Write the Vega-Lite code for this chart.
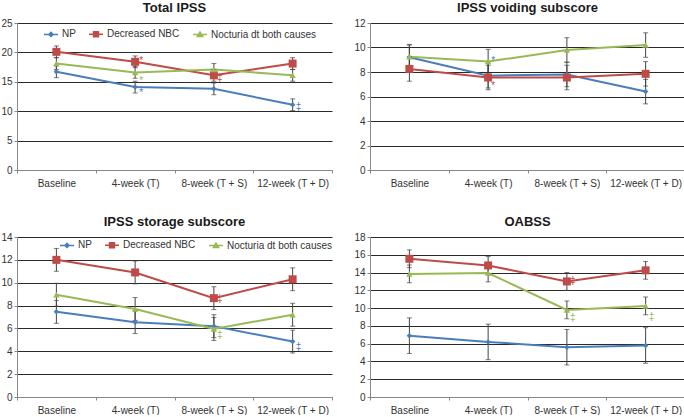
{
  "$schema": "https://vega.github.io/schema/vega-lite/v6.json",
  "padding": {"left": 0, "top": 2, "right": 0, "bottom": 0},
  "background": "white",
  "datasets": {
    "pts": [
      {"panel": "Total IPSS", "time": "Baseline", "series": "NP", "value": 16.7, "lo": 15.7, "hi": 17.7},
      {"panel": "Total IPSS", "time": "4-week (T)", "series": "NP", "value": 14.1, "lo": 13.1, "hi": 15.1},
      {"panel": "Total IPSS", "time": "8-week (T + S)", "series": "NP", "value": 13.8, "lo": 12.8, "hi": 14.8},
      {"panel": "Total IPSS", "time": "12-week (T + D)", "series": "NP", "value": 11.1, "lo": 10.1, "hi": 12.1},
      {"panel": "Total IPSS", "time": "Baseline", "series": "Decreased NBC", "value": 20.1, "lo": 19.1, "hi": 21.1},
      {"panel": "Total IPSS", "time": "4-week (T)", "series": "Decreased NBC", "value": 18.4, "lo": 17.4, "hi": 19.4},
      {"panel": "Total IPSS", "time": "8-week (T + S)", "series": "Decreased NBC", "value": 16.1, "lo": 15.1, "hi": 17.1},
      {"panel": "Total IPSS", "time": "12-week (T + D)", "series": "Decreased NBC", "value": 18.1, "lo": 17.1, "hi": 19.1},
      {"panel": "Total IPSS", "time": "Baseline", "series": "Nocturia dt both causes", "value": 18.1, "lo": 17.1, "hi": 19.1},
      {"panel": "Total IPSS", "time": "4-week (T)", "series": "Nocturia dt both causes", "value": 16.6, "lo": 15.6, "hi": 17.6},
      {"panel": "Total IPSS", "time": "8-week (T + S)", "series": "Nocturia dt both causes", "value": 17.1, "lo": 16.1, "hi": 18.1},
      {"panel": "Total IPSS", "time": "12-week (T + D)", "series": "Nocturia dt both causes", "value": 16.1, "lo": 15.1, "hi": 17.1},

      {"panel": "IPSS voiding subscore", "time": "Baseline", "series": "NP", "value": 9.2, "lo": 8.2, "hi": 10.2},
      {"panel": "IPSS voiding subscore", "time": "4-week (T)", "series": "NP", "value": 7.7, "lo": 6.7, "hi": 8.7},
      {"panel": "IPSS voiding subscore", "time": "8-week (T + S)", "series": "NP", "value": 7.8, "lo": 6.8, "hi": 8.8},
      {"panel": "IPSS voiding subscore", "time": "12-week (T + D)", "series": "NP", "value": 6.4, "lo": 5.4, "hi": 7.4},
      {"panel": "IPSS voiding subscore", "time": "Baseline", "series": "Decreased NBC", "value": 8.25, "lo": 7.25, "hi": 9.25},
      {"panel": "IPSS voiding subscore", "time": "4-week (T)", "series": "Decreased NBC", "value": 7.55, "lo": 6.55, "hi": 8.55},
      {"panel": "IPSS voiding subscore", "time": "8-week (T + S)", "series": "Decreased NBC", "value": 7.55, "lo": 6.55, "hi": 8.55},
      {"panel": "IPSS voiding subscore", "time": "12-week (T + D)", "series": "Decreased NBC", "value": 7.85, "lo": 6.85, "hi": 8.85},
      {"panel": "IPSS voiding subscore", "time": "Baseline", "series": "Nocturia dt both causes", "value": 9.25, "lo": 8.25, "hi": 10.25},
      {"panel": "IPSS voiding subscore", "time": "4-week (T)", "series": "Nocturia dt both causes", "value": 8.85, "lo": 7.85, "hi": 9.85},
      {"panel": "IPSS voiding subscore", "time": "8-week (T + S)", "series": "Nocturia dt both causes", "value": 9.8, "lo": 8.8, "hi": 10.8},
      {"panel": "IPSS voiding subscore", "time": "12-week (T + D)", "series": "Nocturia dt both causes", "value": 10.2, "lo": 9.2, "hi": 11.2},

      {"panel": "IPSS storage subscore", "time": "Baseline", "series": "NP", "value": 7.45, "lo": 6.45, "hi": 8.45},
      {"panel": "IPSS storage subscore", "time": "4-week (T)", "series": "NP", "value": 6.55, "lo": 5.55, "hi": 7.55},
      {"panel": "IPSS storage subscore", "time": "8-week (T + S)", "series": "NP", "value": 6.2, "lo": 5.2, "hi": 7.2},
      {"panel": "IPSS storage subscore", "time": "12-week (T + D)", "series": "NP", "value": 4.85, "lo": 3.85, "hi": 5.85},
      {"panel": "IPSS storage subscore", "time": "Baseline", "series": "Decreased NBC", "value": 12.0, "lo": 11.0, "hi": 13.0},
      {"panel": "IPSS storage subscore", "time": "4-week (T)", "series": "Decreased NBC", "value": 10.9, "lo": 9.9, "hi": 11.9},
      {"panel": "IPSS storage subscore", "time": "8-week (T + S)", "series": "Decreased NBC", "value": 8.65, "lo": 7.65, "hi": 9.65},
      {"panel": "IPSS storage subscore", "time": "12-week (T + D)", "series": "Decreased NBC", "value": 10.3, "lo": 9.3, "hi": 11.3},
      {"panel": "IPSS storage subscore", "time": "Baseline", "series": "Nocturia dt both causes", "value": 8.95, "lo": 7.95, "hi": 9.95},
      {"panel": "IPSS storage subscore", "time": "4-week (T)", "series": "Nocturia dt both causes", "value": 7.7, "lo": 6.7, "hi": 8.7},
      {"panel": "IPSS storage subscore", "time": "8-week (T + S)", "series": "Nocturia dt both causes", "value": 5.95, "lo": 4.95, "hi": 6.95},
      {"panel": "IPSS storage subscore", "time": "12-week (T + D)", "series": "Nocturia dt both causes", "value": 7.2, "lo": 6.2, "hi": 8.2},

      {"panel": "OABSS", "time": "Baseline", "series": "NP", "value": 6.9, "lo": 4.9, "hi": 8.9},
      {"panel": "OABSS", "time": "4-week (T)", "series": "NP", "value": 6.2, "lo": 4.2, "hi": 8.2},
      {"panel": "OABSS", "time": "8-week (T + S)", "series": "NP", "value": 5.6, "lo": 3.6, "hi": 7.6},
      {"panel": "OABSS", "time": "12-week (T + D)", "series": "NP", "value": 5.8, "lo": 3.8, "hi": 7.8},
      {"panel": "OABSS", "time": "Baseline", "series": "Decreased NBC", "value": 15.55, "lo": 14.55, "hi": 16.55},
      {"panel": "OABSS", "time": "4-week (T)", "series": "Decreased NBC", "value": 14.8, "lo": 13.8, "hi": 15.8},
      {"panel": "OABSS", "time": "8-week (T + S)", "series": "Decreased NBC", "value": 13.0, "lo": 12.0, "hi": 14.0},
      {"panel": "OABSS", "time": "12-week (T + D)", "series": "Decreased NBC", "value": 14.25, "lo": 13.25, "hi": 15.25},
      {"panel": "OABSS", "time": "Baseline", "series": "Nocturia dt both causes", "value": 13.85, "lo": 12.85, "hi": 14.85},
      {"panel": "OABSS", "time": "4-week (T)", "series": "Nocturia dt both causes", "value": 13.95, "lo": 12.95, "hi": 14.95},
      {"panel": "OABSS", "time": "8-week (T + S)", "series": "Nocturia dt both causes", "value": 9.8, "lo": 8.8, "hi": 10.8},
      {"panel": "OABSS", "time": "12-week (T + D)", "series": "Nocturia dt both causes", "value": 10.25, "lo": 9.25, "hi": 11.25}
    ],
    "ann": [
      {"panel": "Total IPSS", "time": "4-week (T)", "series": "Decreased NBC", "label": "*", "pos": 18.6},
      {"panel": "Total IPSS", "time": "4-week (T)", "series": "Nocturia dt both causes", "label": "*", "pos": 15.1},
      {"panel": "Total IPSS", "time": "4-week (T)", "series": "NP", "label": "*", "pos": 13.1},
      {"panel": "Total IPSS", "time": "8-week (T + S)", "series": "Decreased NBC", "label": "‡", "pos": 15.6},
      {"panel": "Total IPSS", "time": "12-week (T + D)", "series": "NP", "label": "‡", "pos": 10.7},
      {"panel": "IPSS voiding subscore", "time": "4-week (T)", "series": "NP", "label": "*", "pos": 8.9},
      {"panel": "IPSS voiding subscore", "time": "4-week (T)", "series": "Decreased NBC", "label": "*", "pos": 6.85},
      {"panel": "IPSS storage subscore", "time": "8-week (T + S)", "series": "Decreased NBC", "label": "‡", "pos": 8.55},
      {"panel": "IPSS storage subscore", "time": "8-week (T + S)", "series": "Nocturia dt both causes", "label": "‡", "pos": 5.4},
      {"panel": "IPSS storage subscore", "time": "12-week (T + D)", "series": "NP", "label": "‡", "pos": 4.4},
      {"panel": "OABSS", "time": "8-week (T + S)", "series": "Decreased NBC", "label": "‡", "pos": 13.1},
      {"panel": "OABSS", "time": "8-week (T + S)", "series": "Nocturia dt both causes", "label": "‡", "pos": 8.9},
      {"panel": "OABSS", "time": "12-week (T + D)", "series": "Nocturia dt both causes", "label": "‡", "pos": 9.0}
    ]
  },
  "vconcat": [
    {
      "hconcat": [
        {
          "width": 315, "height": 147,
          "title": {"text": "Total IPSS"},
          "data": {"name": "pts"},
          "transform": [{"filter": "datum.panel === 'Total IPSS'"}],
          "encoding": {
            "x": {"field": "time", "type": "nominal", "scale": {"domain": ["Baseline", "4-week (T)", "8-week (T + S)", "12-week (T + D)"], "paddingInner": 0, "paddingOuter": 0}, "axis": {"title": null, "labelAngle": 0, "tickBand": "extent", "labelPadding": 5, "grid": false}},
            "y": {"field": "value", "type": "quantitative", "scale": {"domain": [0, 25]}, "axis": {"title": null, "values": [0, 5, 10, 15, 20, 25], "grid": true, "labelPadding": 2, "minExtent": 16, "maxExtent": 16, "gridColor": {"condition": {"test": "datum.value === 0", "value": "#888888"}, "value": "#2a2a2a"}}}
          },
          "layer": [
            {"mark": {"type": "line", "strokeWidth": 2}, "encoding": {"color": {"field": "series", "type": "nominal", "scale": {"domain": ["NP", "Decreased NBC", "Nocturia dt both causes"], "range": ["#4A7EBB", "#BE4B48", "#98B954"]}, "legend": null}}},
            {"mark": {"type": "rule", "color": "#444444", "strokeWidth": 1}, "encoding": {"y": {"field": "lo", "type": "quantitative", "title": null}, "y2": {"field": "hi"}}},
            {"mark": {"type": "tick", "color": "#444444", "size": 5, "thickness": 1}, "encoding": {"y": {"field": "lo", "type": "quantitative", "title": null}}},
            {"mark": {"type": "tick", "color": "#444444", "size": 5, "thickness": 1}, "encoding": {"y": {"field": "hi", "type": "quantitative", "title": null}}},
            {"transform": [{"filter": "datum.series === 'NP'"}], "mark": {"type": "point", "shape": "diamond", "filled": true, "size": 30, "opacity": 1}, "encoding": {"color": {"field": "series", "type": "nominal", "legend": null}}},
            {"transform": [{"filter": "datum.series === 'Decreased NBC'"}], "mark": {"type": "point", "shape": "square", "filled": true, "size": 64, "opacity": 1}, "encoding": {"color": {"field": "series", "type": "nominal", "legend": null}}},
            {"transform": [{"filter": "datum.series === 'Nocturia dt both causes'"}], "mark": {"type": "point", "shape": "triangle-up", "filled": true, "size": 40, "opacity": 1}, "encoding": {"color": {"field": "series", "type": "nominal", "legend": null}}},
            {"mark": {"type": "point", "filled": true, "opacity": 0},
             "encoding": {
               "fill": {"field": "series", "type": "nominal", "scale": {"domain": ["NP", "Decreased NBC", "Nocturia dt both causes"], "range": ["#4A7EBB", "#BE4B48", "#98B954"]}, "legend": {"title": null, "orient": "none", "legendX": 26, "legendY": 3, "direction": "horizontal"}},
               "stroke": {"field": "series", "type": "nominal", "scale": {"domain": ["NP", "Decreased NBC", "Nocturia dt both causes"], "range": ["#4A7EBB", "#BE4B48", "#98B954"]}, "legend": {"title": null, "orient": "none", "legendX": 26, "legendY": 3, "direction": "horizontal"}},
               "shape": {"field": "series", "type": "nominal", "scale": {"domain": ["NP", "Decreased NBC", "Nocturia dt both causes"], "range": ["M-1,0H1M0,-0.3L0.3,0L0,0.3L-0.3,0Z", "M-1,0H1M-0.35,-0.35H0.35V0.35H-0.35Z", "M-1,0H1M0,-0.35L0.38,0.28H-0.38Z"]}, "legend": {"title": null, "orient": "none", "legendX": 26, "legendY": 3, "direction": "horizontal"}}
             }},
            {"data": {"name": "ann"}, "transform": [{"filter": "datum.panel === 'Total IPSS'"}], "mark": {"type": "text", "dx": 6, "fontSize": 10, "baseline": "middle"}, "encoding": {"y": {"field": "pos", "type": "quantitative", "title": null}, "text": {"field": "label"}, "color": {"field": "series", "type": "nominal", "legend": null}}}
          ]
        },
        {
          "width": 315, "height": 147,
          "title": {"text": "IPSS voiding subscore"},
          "data": {"name": "pts"},
          "transform": [{"filter": "datum.panel === 'IPSS voiding subscore'"}],
          "encoding": {
            "x": {"field": "time", "type": "nominal", "scale": {"domain": ["Baseline", "4-week (T)", "8-week (T + S)", "12-week (T + D)"], "paddingInner": 0, "paddingOuter": 0}, "axis": {"title": null, "labelAngle": 0, "tickBand": "extent", "labelPadding": 5, "grid": false}},
            "y": {"field": "value", "type": "quantitative", "scale": {"domain": [0, 12]}, "axis": {"title": null, "values": [0, 2, 4, 6, 8, 10, 12], "grid": true, "labelPadding": 2, "minExtent": 20, "maxExtent": 20, "gridColor": {"condition": {"test": "datum.value === 0", "value": "#888888"}, "value": "#2a2a2a"}}}
          },
          "layer": [
            {"mark": {"type": "line", "strokeWidth": 2}, "encoding": {"color": {"field": "series", "type": "nominal", "scale": {"domain": ["NP", "Decreased NBC", "Nocturia dt both causes"], "range": ["#4A7EBB", "#BE4B48", "#98B954"]}, "legend": null}}},
            {"mark": {"type": "rule", "color": "#444444", "strokeWidth": 1}, "encoding": {"y": {"field": "lo", "type": "quantitative", "title": null}, "y2": {"field": "hi"}}},
            {"mark": {"type": "tick", "color": "#444444", "size": 5, "thickness": 1}, "encoding": {"y": {"field": "lo", "type": "quantitative", "title": null}}},
            {"mark": {"type": "tick", "color": "#444444", "size": 5, "thickness": 1}, "encoding": {"y": {"field": "hi", "type": "quantitative", "title": null}}},
            {"transform": [{"filter": "datum.series === 'NP'"}], "mark": {"type": "point", "shape": "diamond", "filled": true, "size": 30, "opacity": 1}, "encoding": {"color": {"field": "series", "type": "nominal", "legend": null}}},
            {"transform": [{"filter": "datum.series === 'Decreased NBC'"}], "mark": {"type": "point", "shape": "square", "filled": true, "size": 64, "opacity": 1}, "encoding": {"color": {"field": "series", "type": "nominal", "legend": null}}},
            {"transform": [{"filter": "datum.series === 'Nocturia dt both causes'"}], "mark": {"type": "point", "shape": "triangle-up", "filled": true, "size": 40, "opacity": 1}, "encoding": {"color": {"field": "series", "type": "nominal", "legend": null}}},
            {"mark": {"type": "point", "filled": true, "opacity": 0},
             "encoding": {
               "fill": {"field": "series", "type": "nominal", "scale": {"domain": ["NP", "Decreased NBC", "Nocturia dt both causes"], "range": ["#4A7EBB", "#BE4B48", "#98B954"]}, "legend": {"title": null, "orient": "none", "legendX": 6, "legendY": 5, "direction": "horizontal"}},
               "stroke": {"field": "series", "type": "nominal", "scale": {"domain": ["NP", "Decreased NBC", "Nocturia dt both causes"], "range": ["#4A7EBB", "#BE4B48", "#98B954"]}, "legend": {"title": null, "orient": "none", "legendX": 6, "legendY": 5, "direction": "horizontal"}},
               "shape": {"field": "series", "type": "nominal", "scale": {"domain": ["NP", "Decreased NBC", "Nocturia dt both causes"], "range": ["M-1,0H1M0,-0.3L0.3,0L0,0.3L-0.3,0Z", "M-1,0H1M-0.35,-0.35H0.35V0.35H-0.35Z", "M-1,0H1M0,-0.35L0.38,0.28H-0.38Z"]}, "legend": {"title": null, "orient": "none", "legendX": 6, "legendY": 5, "direction": "horizontal"}}
             }},
            {"data": {"name": "ann"}, "transform": [{"filter": "datum.panel === 'IPSS voiding subscore'"}], "mark": {"type": "text", "dx": 5, "fontSize": 10, "baseline": "middle"}, "encoding": {"y": {"field": "pos", "type": "quantitative", "title": null}, "text": {"field": "label"}, "color": {"field": "series", "type": "nominal", "legend": null}}}
          ]
        }
      ]
    },
    {
      "hconcat": [
        {
          "width": 315, "height": 160,
          "title": {"text": "IPSS storage subscore"},
          "data": {"name": "pts"},
          "transform": [{"filter": "datum.panel === 'IPSS storage subscore'"}],
          "encoding": {
            "x": {"field": "time", "type": "nominal", "scale": {"domain": ["Baseline", "4-week (T)", "8-week (T + S)", "12-week (T + D)"], "paddingInner": 0, "paddingOuter": 0}, "axis": {"title": null, "labelAngle": 0, "tickBand": "extent", "labelPadding": 5, "grid": false}},
            "y": {"field": "value", "type": "quantitative", "scale": {"domain": [0, 14]}, "axis": {"title": null, "values": [0, 2, 4, 6, 8, 10, 12, 14], "grid": true, "labelPadding": 2, "minExtent": 16, "maxExtent": 16, "gridColor": {"condition": {"test": "datum.value === 0", "value": "#888888"}, "value": "#2a2a2a"}}}
          },
          "layer": [
            {"mark": {"type": "line", "strokeWidth": 2}, "encoding": {"color": {"field": "series", "type": "nominal", "scale": {"domain": ["NP", "Decreased NBC", "Nocturia dt both causes"], "range": ["#4A7EBB", "#BE4B48", "#98B954"]}, "legend": null}}},
            {"mark": {"type": "rule", "color": "#444444", "strokeWidth": 1}, "encoding": {"y": {"field": "lo", "type": "quantitative", "title": null}, "y2": {"field": "hi"}}},
            {"mark": {"type": "tick", "color": "#444444", "size": 5, "thickness": 1}, "encoding": {"y": {"field": "lo", "type": "quantitative", "title": null}}},
            {"mark": {"type": "tick", "color": "#444444", "size": 5, "thickness": 1}, "encoding": {"y": {"field": "hi", "type": "quantitative", "title": null}}},
            {"transform": [{"filter": "datum.series === 'NP'"}], "mark": {"type": "point", "shape": "diamond", "filled": true, "size": 30, "opacity": 1}, "encoding": {"color": {"field": "series", "type": "nominal", "legend": null}}},
            {"transform": [{"filter": "datum.series === 'Decreased NBC'"}], "mark": {"type": "point", "shape": "square", "filled": true, "size": 64, "opacity": 1}, "encoding": {"color": {"field": "series", "type": "nominal", "legend": null}}},
            {"transform": [{"filter": "datum.series === 'Nocturia dt both causes'"}], "mark": {"type": "point", "shape": "triangle-up", "filled": true, "size": 40, "opacity": 1}, "encoding": {"color": {"field": "series", "type": "nominal", "legend": null}}},
            {"mark": {"type": "point", "filled": true, "opacity": 0},
             "encoding": {
               "fill": {"field": "series", "type": "nominal", "scale": {"domain": ["NP", "Decreased NBC", "Nocturia dt both causes"], "range": ["#4A7EBB", "#BE4B48", "#98B954"]}, "legend": {"title": null, "orient": "none", "legendX": 42, "legendY": 0, "direction": "horizontal"}},
               "stroke": {"field": "series", "type": "nominal", "scale": {"domain": ["NP", "Decreased NBC", "Nocturia dt both causes"], "range": ["#4A7EBB", "#BE4B48", "#98B954"]}, "legend": {"title": null, "orient": "none", "legendX": 42, "legendY": 0, "direction": "horizontal"}},
               "shape": {"field": "series", "type": "nominal", "scale": {"domain": ["NP", "Decreased NBC", "Nocturia dt both causes"], "range": ["M-1,0H1M0,-0.3L0.3,0L0,0.3L-0.3,0Z", "M-1,0H1M-0.35,-0.35H0.35V0.35H-0.35Z", "M-1,0H1M0,-0.35L0.38,0.28H-0.38Z"]}, "legend": {"title": null, "orient": "none", "legendX": 42, "legendY": 0, "direction": "horizontal"}}
             }},
            {"data": {"name": "ann"}, "transform": [{"filter": "datum.panel === 'IPSS storage subscore'"}], "mark": {"type": "text", "dx": 6, "fontSize": 10, "baseline": "middle"}, "encoding": {"y": {"field": "pos", "type": "quantitative", "title": null}, "text": {"field": "label"}, "color": {"field": "series", "type": "nominal", "legend": null}}}
          ]
        },
        {
          "width": 315, "height": 160,
          "title": {"text": "OABSS"},
          "data": {"name": "pts"},
          "transform": [{"filter": "datum.panel === 'OABSS'"}],
          "encoding": {
            "x": {"field": "time", "type": "nominal", "scale": {"domain": ["Baseline", "4-week (T)", "8-week (T + S)", "12-week (T + D)"], "paddingInner": 0, "paddingOuter": 0}, "axis": {"title": null, "labelAngle": 0, "tickBand": "extent", "labelPadding": 5, "grid": false}},
            "y": {"field": "value", "type": "quantitative", "scale": {"domain": [0, 18]}, "axis": {"title": null, "values": [0, 2, 4, 6, 8, 10, 12, 14, 16, 18], "grid": true, "labelPadding": 2, "minExtent": 20, "maxExtent": 20, "gridColor": {"condition": {"test": "datum.value === 0", "value": "#888888"}, "value": "#2a2a2a"}}}
          },
          "layer": [
            {"mark": {"type": "line", "strokeWidth": 2}, "encoding": {"color": {"field": "series", "type": "nominal", "scale": {"domain": ["NP", "Decreased NBC", "Nocturia dt both causes"], "range": ["#4A7EBB", "#BE4B48", "#98B954"]}, "legend": null}}},
            {"mark": {"type": "rule", "color": "#444444", "strokeWidth": 1}, "encoding": {"y": {"field": "lo", "type": "quantitative", "title": null}, "y2": {"field": "hi"}}},
            {"mark": {"type": "tick", "color": "#444444", "size": 5, "thickness": 1}, "encoding": {"y": {"field": "lo", "type": "quantitative", "title": null}}},
            {"mark": {"type": "tick", "color": "#444444", "size": 5, "thickness": 1}, "encoding": {"y": {"field": "hi", "type": "quantitative", "title": null}}},
            {"transform": [{"filter": "datum.series === 'NP'"}], "mark": {"type": "point", "shape": "diamond", "filled": true, "size": 30, "opacity": 1}, "encoding": {"color": {"field": "series", "type": "nominal", "legend": null}}},
            {"transform": [{"filter": "datum.series === 'Decreased NBC'"}], "mark": {"type": "point", "shape": "square", "filled": true, "size": 64, "opacity": 1}, "encoding": {"color": {"field": "series", "type": "nominal", "legend": null}}},
            {"transform": [{"filter": "datum.series === 'Nocturia dt both causes'"}], "mark": {"type": "point", "shape": "triangle-up", "filled": true, "size": 40, "opacity": 1}, "encoding": {"color": {"field": "series", "type": "nominal", "legend": null}}},
            {"mark": {"type": "point", "filled": true, "opacity": 0},
             "encoding": {
               "fill": {"field": "series", "type": "nominal", "scale": {"domain": ["NP", "Decreased NBC", "Nocturia dt both causes"], "range": ["#4A7EBB", "#BE4B48", "#98B954"]}, "legend": {"title": null, "orient": "none", "legendX": 21, "legendY": 0, "direction": "horizontal"}},
               "stroke": {"field": "series", "type": "nominal", "scale": {"domain": ["NP", "Decreased NBC", "Nocturia dt both causes"], "range": ["#4A7EBB", "#BE4B48", "#98B954"]}, "legend": {"title": null, "orient": "none", "legendX": 21, "legendY": 0, "direction": "horizontal"}},
               "shape": {"field": "series", "type": "nominal", "scale": {"domain": ["NP", "Decreased NBC", "Nocturia dt both causes"], "range": ["M-1,0H1M0,-0.3L0.3,0L0,0.3L-0.3,0Z", "M-1,0H1M-0.35,-0.35H0.35V0.35H-0.35Z", "M-1,0H1M0,-0.35L0.38,0.28H-0.38Z"]}, "legend": {"title": null, "orient": "none", "legendX": 21, "legendY": 0, "direction": "horizontal"}}
             }},
            {"data": {"name": "ann"}, "transform": [{"filter": "datum.panel === 'OABSS'"}], "mark": {"type": "text", "dx": 6, "fontSize": 10, "baseline": "middle"}, "encoding": {"y": {"field": "pos", "type": "quantitative", "title": null}, "text": {"field": "label"}, "color": {"field": "series", "type": "nominal", "legend": null}}}
          ]
        }
      ],
      "spacing": 17
    }
  ],
  "spacing": 28,
  "resolve": {"legend": {"fill": "independent", "stroke": "independent", "shape": "independent"}},
  "config": {
    "font": "Liberation Sans",
    "view": {"stroke": null},
    "concat": {"spacing": 17},
    "axis": {"labelFont": "Liberation Sans", "labelFontSize": 10, "labelColor": "#333333", "domainColor": "#888888", "tickColor": "#888888", "tickSize": 3},
    "title": {"font": "Liberation Sans", "fontSize": 13, "fontWeight": "bold", "color": "#1a1a1a", "offset": 3, "frame": "group", "anchor": "middle"},
    "legend": {"labelFont": "Liberation Sans", "labelFontSize": 10, "labelColor": "#333333", "symbolSize": 196, "symbolStrokeWidth": 1.5, "symbolOpacity": 1, "labelOffset": 3, "columnPadding": 10, "padding": 0}
  }
}
